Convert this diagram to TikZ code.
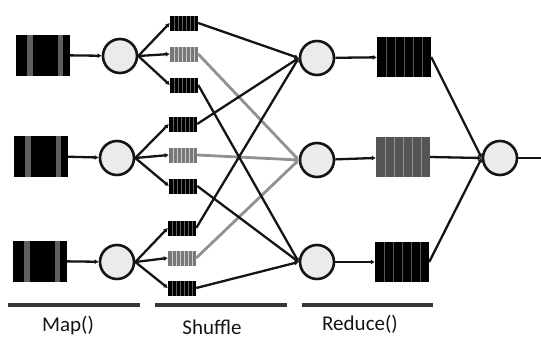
\documentclass[tikz,border=0pt]{standalone}
\usepackage{fontspec}
\setmainfont{Carlito}
\usetikzlibrary{arrows.meta}
\definecolor{mrcolor0001}{RGB}{20,20,20}
\definecolor{mrcolor0002}{RGB}{235,235,235}
\definecolor{mrcolor0003}{RGB}{95,95,95}
\definecolor{mrcolor0004}{RGB}{120,120,120}
\definecolor{mrcolor0005}{RGB}{205,205,205}
\definecolor{mrcolor0006}{RGB}{85,85,85}
\definecolor{mrcolor0007}{RGB}{145,145,145}
\definecolor{mrcolor0008}{RGB}{55,55,55}

\begin{document}
\begin{tikzpicture}[yscale=-1
            ,proc/.style={circle,draw=mrcolor0001,fill=mrcolor0002,line width=2.6pt,minimum size=34pt,inner sep=0pt}
            ,inbox/.style={rectangle,fill=black,minimum width=54pt,minimum height=41pt,inner sep=0pt,
                path picture={
                    \fill[mrcolor0003] ([xshift=11pt]path picture bounding box.south west) rectangle ([xshift=17pt]path picture bounding box.north west);
                    \fill[mrcolor0003] ([xshift=42pt]path picture bounding box.south west) rectangle ([xshift=47pt]path picture bounding box.north west);}}
            ,squeue/.style={rectangle,fill=black,minimum width=28pt,minimum height=15pt,inner sep=0pt,
                path picture={\foreach \k in {1,...,6}{
                    \draw[mrcolor0003,line width=0.9pt] ([xshift=\k*4pt]path picture bounding box.south west) -- ([xshift=\k*4pt]path picture bounding box.north west);}}}
            ,gqueue/.style={rectangle,fill=mrcolor0004,minimum width=28pt,minimum height=15pt,inner sep=0pt,
                path picture={\foreach \k in {1,...,6}{
                    \draw[mrcolor0005,line width=0.9pt] ([xshift=\k*4pt]path picture bounding box.south west) -- ([xshift=\k*4pt]path picture bounding box.north west);}}}
            ,rqueue/.style={rectangle,fill=black,minimum width=54pt,minimum height=40pt,inner sep=0pt,
                path picture={\foreach \k in {1,...,5}{
                    \draw[mrcolor0006,line width=0.9pt] ([xshift=\k*9pt]path picture bounding box.south west) -- ([xshift=\k*9pt]path picture bounding box.north west);}}}
            ,rgqueue/.style={rectangle,fill=mrcolor0006,minimum width=54pt,minimum height=40pt,inner sep=0pt,
                path picture={\foreach \k in {1,...,5}{
                    \draw[mrcolor0007,line width=0.9pt] ([xshift=\k*9pt]path picture bounding box.south west) -- ([xshift=\k*9pt]path picture bounding box.north west);}}}
            ,link/.style={draw=mrcolor0001,line width=2.3pt,-{Latex[length=4pt,width=5pt]}}
            ,glink/.style={draw=mrcolor0007,line width=2.8pt,-{Latex[length=4pt,width=5pt]}}
            ,rule/.style={draw=mrcolor0008,line width=3.4pt}
            ,lbl/.style={color=mrcolor0001,font=\fontsize{21}{23}\selectfont,inner sep=0pt}
        ]
        \useasboundingbox (0pt,0pt) rectangle (541pt,338pt);
        % map side
        \node[inbox] (in1) at (43pt,55pt) {};
        \node[inbox] (in2) at (41pt,156pt) {};
        \node[inbox] (in3) at (40pt,261pt) {};
        \node[proc] (m1) at (120pt,56pt) {};
        \node[proc] (m2) at (117pt,158pt) {};
        \node[proc] (m3) at (117pt,262pt) {};
        % shuffle queues
        \node[squeue] (s11) at (184pt,23pt) {};
        \node[gqueue] (s12) at (184pt,54pt) {};
        \node[squeue] (s13) at (184pt,85pt) {};
        \node[squeue] (s21) at (183pt,124pt) {};
        \node[gqueue] (s22) at (183pt,155pt) {};
        \node[squeue] (s23) at (183pt,186pt) {};
        \node[squeue] (s31) at (182pt,228pt) {};
        \node[gqueue] (s32) at (182pt,258pt) {};
        \node[squeue] (s33) at (182pt,288pt) {};
        % reduce side
        \node[proc] (r1) at (317pt,58pt) {};
        \node[proc] (r2) at (317pt,160pt) {};
        \node[proc] (r3) at (317pt,262pt) {};
        \node[rqueue] (q1) at (404pt,57pt) {};
        \node[rgqueue] (q2) at (403pt,157pt) {};
        \node[rqueue] (q3) at (402pt,262pt) {};
        \node[proc] (f) at (500pt,158pt) {};
        \coordinate (out) at (541pt,158pt);
        % connectors
        \draw[link] (in1) -- (m1);
        \draw[link] (in2) -- (m2);
        \draw[link] (in3) -- (m3);
        \draw[link] (m1.east) -- (s11.west);
        \draw[link] (m1.east) -- (s12.west);
        \draw[link] (m1.east) -- (s13.west);
        \draw[link] (m2.east) -- (s21.west);
        \draw[link] (m2.east) -- (s22.west);
        \draw[link] (m2.east) -- (s23.west);
        \draw[link] (m3.east) -- (s31.west);
        \draw[link] (m3.east) -- (s32.west);
        \draw[link] (m3.east) -- (s33.west);
        \draw[glink] (s12.east) -- (r2.west);
        \draw[glink] (s22.east) -- (r2.west);
        \draw[glink] (s32.east) -- (r2.west);
        \draw[link] (s11.east) -- (r1.west);
        \draw[link] (s21.east) -- (r1.west);
        \draw[link] (s31.east) -- (r1.west);
        \draw[link] (s13.east) -- (r3.west);
        \draw[link] (s23.east) -- (r3.west);
        \draw[link] (s33.east) -- (r3.west);
        \draw[link] (r1) -- (q1);
        \draw[link] (r2) -- (q2);
        \draw[link] (r3) -- (q3);
        \draw[link] (q1.east) -- (f.west);
        \draw[link] (q2.east) -- (f.west);
        \draw[link] (q3.east) -- (f.west);
        \draw[draw=mrcolor0001,line width=2.3pt] (f) -- (out);
        % phase rules and labels
        \coordinate (a0) at (8pt,305pt);
        \coordinate (a1) at (140pt,305pt);
        \coordinate (b0) at (155pt,305pt);
        \coordinate (b1) at (287pt,305pt);
        \coordinate (c0) at (302pt,305pt);
        \coordinate (c1) at (433pt,305pt);
        \draw[rule] (a0) -- (a1);
        \draw[rule] (b0) -- (b1);
        \draw[rule] (c0) -- (c1);
        \node[lbl] (lmap) at (68pt,326pt) {Map()};
        \node[lbl] (lshuffle) at (212pt,327pt) {Shuffle};
        \node[lbl] (lreduce) at (360pt,324pt) {Reduce()};
    \end{tikzpicture}
\end{document}
